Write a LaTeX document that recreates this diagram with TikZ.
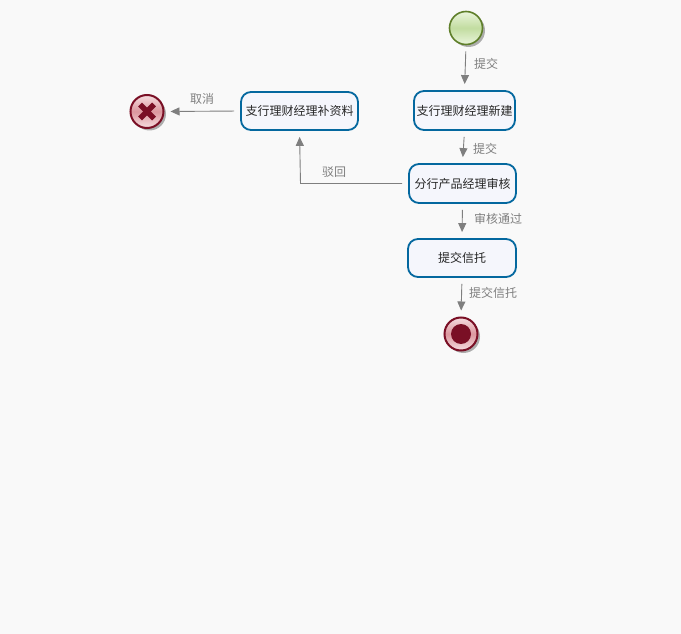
\documentclass[tikz,border=0pt]{standalone}
\usepackage{fontspec}
\setmainfont{Noto Sans CJK SC}
\usetikzlibrary{shadows,arrows.meta}
\definecolor{pagebg}{HTML}{F9F9F9}
\definecolor{taskblue}{HTML}{04689F}
\definecolor{taskfill}{HTML}{F5F6FC}
\definecolor{flowgray}{HTML}{7F7F7F}
\definecolor{startline}{HTML}{5F7F2A}
\definecolor{startpale}{HTML}{EAF5DC}
\definecolor{startband}{HTML}{C2DCA0}
\definecolor{endline}{HTML}{7A0F25}
\definecolor{endpale}{HTML}{F6DDE0}
\definecolor{endband}{HTML}{DB979E}
\tikzset{
	task/.style={draw=taskblue,line width=1.8pt,fill=taskfill,rounded corners=10pt,inner sep=0pt,font=\fontsize{12}{12}\selectfont,text=black!85},
	startevent/.style={circle,draw=startline,line width=1.6pt,minimum size=33pt,inner sep=0pt,top color=startpale,bottom color=startpale,middle color=startband,drop shadow={shadow xshift=2.5pt,shadow yshift=-2.5pt,fill=black,opacity=0.3}},
	endevent/.style={circle,draw=endline,line width=2pt,minimum size=33pt,inner sep=0pt,top color=endpale,bottom color=endpale,middle color=endband,drop shadow={shadow xshift=2.5pt,shadow yshift=-2.5pt,fill=black,opacity=0.3}},
	flow/.style={draw=flowgray,line width=0.9pt,-{Triangle[length=9pt,width=8pt]},shorten >=6pt,shorten <=6pt},
	flowlabel/.style={inner sep=0pt,text=flowgray,font=\fontsize{12}{12}\selectfont},
}
\begin{document}
\begin{tikzpicture}[x=1pt,y=-1pt]
	\useasboundingbox (0,0) rectangle (681,634);
	\fill [pagebg] (0,0) rectangle (681,634);
	% events
	\node [startevent] (start) at (466,28) {};
	\node [endevent] (finish) at (461,334) {};
	\node [endevent] (cancel) at (147,111.5) {};
	\fill [endline] (finish) circle (10);
	\draw [endline,line width=5.5pt] ([xshift=-7pt,yshift=7pt]cancel.center) -- ([xshift=7pt,yshift=-7pt]cancel.center);
	\draw [endline,line width=5.5pt] ([xshift=-7pt,yshift=-7pt]cancel.center) -- ([xshift=7pt,yshift=7pt]cancel.center);
	% tasks
	\node [task,minimum width=101pt,minimum height=39pt] (create) at (464.5,110.5) {支行理财经理新建};
	\node [task,minimum width=107pt,minimum height=39pt] (review) at (462.5,183.5) {分行产品经理审核};
	\node [task,minimum width=108pt,minimum height=38pt] (trust) at (462,258) {提交信托};
	\node [task,minimum width=117pt,minimum height=38pt] (amend) at (299.5,111) {支行理财经理补资料};
	% flows
	\draw [flow] (start.south) -- (create.north);
	\draw [flow] (create.south) -- (review.north);
	\draw [flow] (review.south) -- (trust.north);
	\draw [flow] (trust.south) -- (finish.north);
	\draw [flow] (review.west) -- (300.5,183.5) -- (amend.south);
	\draw [flow] (amend.west) -- (cancel.east);
	% labels
	\node [flowlabel,anchor=west] (lblsubmit) at (474,64) {提交};
	\node [flowlabel,anchor=west] (lblsubmitb) at (473,149) {提交};
	\node [flowlabel,anchor=west] (lblpass) at (474,219) {审核通过};
	\node [flowlabel,anchor=west] (lbltrust) at (469,293) {提交信托};
	\node [flowlabel,anchor=west] (lblreject) at (322,172) {驳回};
	\node [flowlabel,anchor=west] (lblcancel) at (190,99) {取消};
\end{tikzpicture}
\end{document}
